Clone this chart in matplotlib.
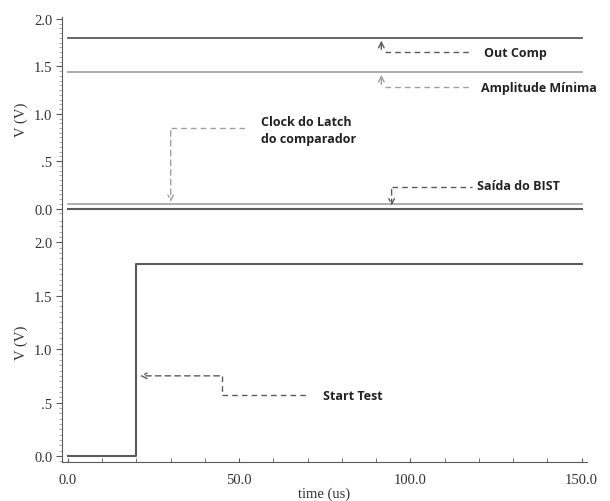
import matplotlib
matplotlib.use("Agg")
import matplotlib.pyplot as plt
import numpy as np

# signal levels (V)
t_span = [0.0, 150.0]
out_comp = [1.8, 1.8]
amp_min = [1.44, 1.44]
bist_out = [0.05, 0.05]
clock_latch = [0.0, 0.0]

# start test step
start_t = [0.0, 19.8, 19.8, 150.0]
start_v = [0.0, 0.0, 1.8, 1.8]

y_ticks = [0.0, 0.5, 1.0, 1.5, 2.0]
y_ticklabels = ["0.0", ".5", "1.0", "1.5", "2.0"]
x_ticks = [0.0, 50.0, 100.0, 150.0]
x_ticklabels = ["0.0", "50.0", "100.0", "150.0"]

dark = "#5a5a5a"
light = "#a0a0a0"
serif = ["Liberation Serif", "DejaVu Serif"]
label_font = dict(family=["Open Sans", "DejaVu Sans"], fontweight="bold", fontsize=9, color="#222222")

fig = plt.figure(figsize=(6.1, 5.02), dpi=100)
ax1 = fig.add_axes([0.1016, 0.558, 0.8604, 0.406])
ax2 = fig.add_axes([0.1016, 0.0777, 0.8604, 0.4803])

XL = (-1.75, 151.5)


def style_axis(ax):
    for s in ["top", "right"]:
        ax.spines[s].set_visible(False)
    ax.spines["left"].set_color(dark)
    ax.spines["bottom"].set_color(dark)
    ax.set_yticks(y_ticks)
    ax.set_yticklabels(y_ticklabels, family=serif, fontsize=10.5, color="#333333")
    ax.set_yticks(np.arange(-0.05, 2.25, 0.05), minor=True)
    ax.tick_params(axis="y", which="major", direction="out", length=4, color=dark, pad=3)
    ax.tick_params(axis="y", which="minor", direction="out", length=2, color=light)
    ax.set_ylabel("V (V)", family=serif, fontsize=10.5, color="#333333", labelpad=4)
    ax.set_xlim(*XL)


# top panel
style_axis(ax1)
ax1.set_ylim(-0.13, 2.02)
ax1.spines["bottom"].set_visible(False)
ax1.set_xticks([])
ax1.plot(t_span, out_comp, color=dark, lw=1.3)
ax1.plot(t_span, amp_min, color=light, lw=1.2)
ax1.plot(t_span, bist_out, color=light, lw=1.2)
ax1.plot(t_span, clock_latch, color=dark, lw=1.5)

dash = dict(ls=(0, (4, 3)), lw=1.0)
arr = dict(arrowstyle="->", lw=1.0, mutation_scale=10)

# Out Comp
ax1.plot([92.5, 118], [1.65, 1.65], color=dark, **dash)
ax1.annotate("", xy=(91.5, 1.8), xytext=(91.5, 1.65),
             arrowprops=dict(color=dark, **arr))
ax1.text(121.5, 1.65, "Out Comp", va="center", **label_font)

# Amplitude Minima
ax1.plot([92.5, 118], [1.28, 1.28], color=light, **dash)
ax1.annotate("", xy=(91.5, 1.44), xytext=(91.5, 1.28),
             arrowprops=dict(color=light, **arr))
ax1.text(120.5, 1.28, "Amplitude Mínima", va="center", **label_font)

# Clock do Latch
ax1.plot([30, 52], [0.85, 0.85], color=light, **dash)
ax1.annotate("", xy=(30, 0.04), xytext=(30, 0.85),
             arrowprops=dict(color=light, linestyle=(0, (4, 3)), **arr))
ax1.text(56.5, 0.83, "Clock do Latch\ndo comparador", va="center", linespacing=1.4, **label_font)

# Saida do BIST
ax1.plot([94.5, 118], [0.23, 0.23], color=dark, **dash)
ax1.annotate("", xy=(94.5, 0.0), xytext=(94.5, 0.23),
             arrowprops=dict(color=dark, linestyle=(0, (4, 3)), **arr))
ax1.text(119.5, 0.24, "Saída do BIST", va="center", **label_font)

# bottom panel
style_axis(ax2)
ax2.set_ylim(-0.056, 2.2)
ax2.plot(start_t, start_v, color=dark, lw=1.5)
ax2.set_xticks(x_ticks)
ax2.set_xticklabels(x_ticklabels, family=serif, fontsize=10.5, color="#333333")
ax2.set_xticks(np.arange(0, 151, 10), minor=True)
ax2.tick_params(axis="x", which="both", direction="in", length=3, color=dark, pad=8)
ax2.set_xlabel("time (us)", family=serif, fontsize=10.5, color="#333333", labelpad=0)

# Start Test
ax2.annotate("", xy=(20.2, 0.75), xytext=(45, 0.75),
             arrowprops=dict(color=dark, linestyle=(0, (4, 3)), **arr))
ax2.plot([45, 45], [0.75, 0.57], color=dark, **dash)
ax2.plot([45, 70], [0.57, 0.57], color=dark, **dash)
ax2.text(74.5, 0.57, "Start Test", va="center", **label_font)

fig.savefig("out.png", dpi=100)
